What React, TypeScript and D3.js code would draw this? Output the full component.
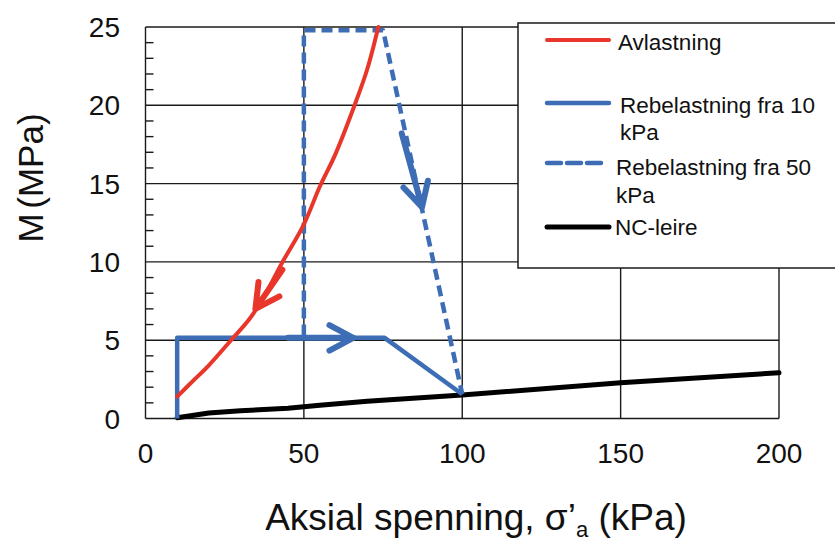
import React from "react";
import * as d3 from "d3";

const xTicks = [0, 50, 100, 150, 200];
const yTicks = [0, 5, 10, 15, 20, 25];

const avlastning: [number, number][] = [
  [10, 1.4], [15, 2.4], [20, 3.4], [27, 5.0], [33, 6.4], [38, 8.0], [43, 9.9],
  [50, 12.4], [55, 14.8], [60, 16.9], [66, 20.0], [70, 22.3], [73.5, 25.0],
];
const rebel10: [number, number][] = [
  [10, 0], [10, 5.15], [75.5, 5.15], [100, 1.55],
];
const rebel50: [number, number][] = [
  [50, 5.3], [50, 24.8], [75, 24.8], [100, 1.55],
];
const ncLeire: [number, number][] = [
  [10, 0.05], [20, 0.35], [30, 0.5], [45, 0.65], [55, 0.85], [70, 1.1],
  [100, 1.5], [150, 2.28], [200, 2.92],
];

// arrows: from (x1,y1) to tip (x2,y2), in data units
const arrows = [
  { x1: 43.2, y1: 9.5, x2: 34.7, y2: 7.0, color: "#e8372a" },
  { x1: 45, y1: 5.15, x2: 65.6, y2: 5.15, color: "#3d6db5" },
  { x1: 80.9, y1: 18.2, x2: 87.3, y2: 13.5, color: "#3d6db5" },
];

const legendItems = [
  { lines: ["Avlastning"], color: "#e8372a", dash: "", width: 4 },
  { lines: ["Rebelastning fra 10", "kPa"], color: "#3d6db5", dash: "", width: 4.5 },
  { lines: ["Rebelastning fra 50", "kPa"], color: "#3d6db5", dash: "14 6", width: 4.5 },
  { lines: ["NC-leire"], color: "#000", dash: "", width: 5 },
];

const RED = "#e8372a";
const BLUE = "#3d6db5";
const FONT = "'Liberation Sans', Arial, sans-serif";

export default function App() {
  const W = 835, H = 543;
  const x = d3.scaleLinear().domain([0, 200]).range([145.5, 779]);
  const y = d3.scaleLinear().domain([0, 25]).range([418.5, 27]);
  const line = d3.line<[number, number]>().x((d) => x(d[0])).y((d) => y(d[1]));
  const minor = d3.range(0, 25).filter((v) => v % 5 !== 0);

  const legendRows = [
    { lineY: 40, textX: 618, base: [50] },
    { lineY: 103, textX: 620, base: [113, 140] },
    { lineY: 163, textX: 616, base: [175, 203] },
    { lineY: 227, textX: 615, base: [235] },
  ];

  const arrowHead = (a: typeof arrows[number]) => {
    const tx = x(a.x2), ty = y(a.y2);
    const sx = x(a.x1), sy = y(a.y1);
    const ang = Math.atan2(sy - ty, sx - tx);
    const L = 27, h = (28 * Math.PI) / 180;
    const p1 = [tx + L * Math.cos(ang + h), ty + L * Math.sin(ang + h)];
    const p2 = [tx + L * Math.cos(ang - h), ty + L * Math.sin(ang - h)];
    return `M${p1[0]},${p1[1]}L${tx},${ty}L${p2[0]},${p2[1]}M${sx},${sy}L${tx},${ty}`;
  };

  return (
    <svg width={W} height={H} style={{ position: "absolute", left: 0, top: 0, background: "#fff" }} fontFamily={FONT}>
      <rect x={0} y={0} width={W} height={H} fill="#fff" />
      {/* grid */}
      {xTicks.map((t) => (
        <line key={"gx" + t} x1={x(t)} x2={x(t)} y1={y(0)} y2={y(25)} stroke="#1a1a1a" strokeWidth={1.4} />
      ))}
      {yTicks.map((t) => (
        <line key={"gy" + t} x1={x(0)} x2={x(200)} y1={y(t)} y2={y(t)} stroke="#1a1a1a" strokeWidth={1.4} />
      ))}
      {minor.map((t) => (
        <line key={"m" + t} x1={x(0)} x2={x(0) + 8} y1={y(t)} y2={y(t)} stroke="#1a1a1a" strokeWidth={1.4} />
      ))}
      {/* tick labels */}
      {yTicks.map((t) => (
        <text key={"yl" + t} x={120} y={y(t) + 10} textAnchor="end" fontSize={28} fill="#111">{t}</text>
      ))}
      {xTicks.map((t) => (
        <text key={"xl" + t} x={x(t)} y={463} textAnchor="middle" fontSize={28} fill="#111">{t}</text>
      ))}
      {/* axis titles */}
      <text transform="translate(43,178) rotate(-90)" textAnchor="middle" fontSize={35} wordSpacing={-5} fill="#111">M (MPa)</text>
      <text x={476} y={530} textAnchor="middle" fontSize={37} fill="#111">
        Aksial spenning, σ’<tspan fontSize={22} dy={7}>a</tspan><tspan dy={-7}> (kPa)</tspan>
      </text>
      {/* series */}
      <path d={line(ncLeire) || ""} fill="none" stroke="#000" strokeWidth={5} strokeLinejoin="round" strokeLinecap="round" />
      <path d={line(rebel50) || ""} fill="none" stroke={BLUE} strokeWidth={4.5} strokeDasharray="11 6" strokeLinejoin="round" />
      <path d={line(rebel10) || ""} fill="none" stroke={BLUE} strokeWidth={4.5} strokeLinejoin="round" />
      <path d={line.curve(d3.curveCatmullRom)(avlastning) || ""} fill="none" stroke={RED} strokeWidth={4} strokeLinejoin="round" strokeLinecap="round" />
      {arrows.map((a, i) => (
        <path key={"a" + i} d={arrowHead(a)} fill="none" stroke={a.color} strokeWidth={6} strokeLinecap="round" strokeLinejoin="round" />
      ))}
      {/* legend */}
      <rect x={518} y={23} width={330} height={245} fill="#fff" stroke="#1a1a1a" strokeWidth={1.5} />
      {legendItems.map((it, i) => {
        const r = legendRows[i];
        return (
          <g key={"lg" + i}>
            <line x1={547} x2={i === 2 ? 605 : 609} y1={r.lineY} y2={r.lineY} stroke={it.color} strokeWidth={it.width} strokeDasharray={it.dash || undefined} strokeLinecap="round" />
            {it.lines.map((s, j) => (
              <text key={j} x={r.textX} y={r.base[j]} fontSize={22.5} fill="#111">{s}</text>
            ))}
          </g>
        );
      })}
    </svg>
  );
}
